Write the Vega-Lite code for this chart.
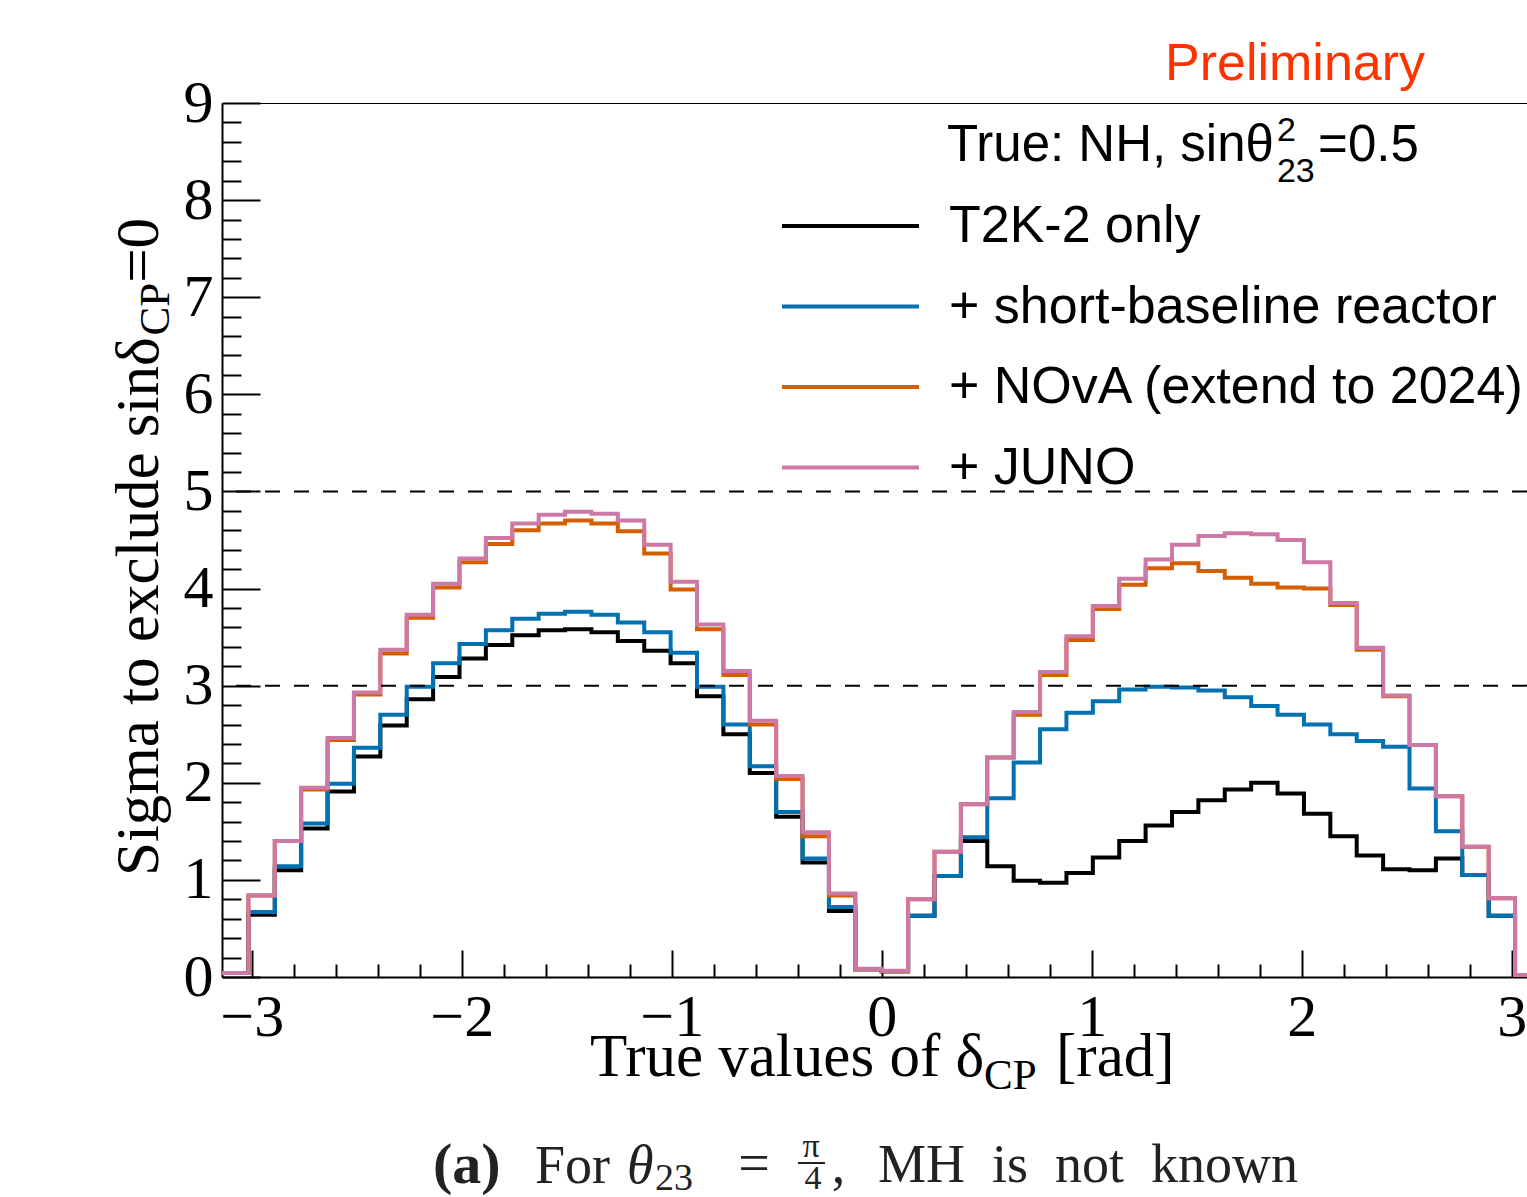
{
  "$schema": "https://vega.github.io/schema/vega-lite/v6.json",
  "width": 1305,
  "height": 874,
  "autosize": {"type": "none"},
  "padding": {"left": 222, "top": 103, "right": 0, "bottom": 220},
  "background": "white",
  "config": {
    "view": {"stroke": null},
    "axis": {
      "grid": false,
      "domainColor": "black",
      "domainWidth": 2,
      "tickColor": "black",
      "tickWidth": 2,
      "labelColor": "black",
      "labelFont": "Liberation Serif",
      "labelFontSize": 60,
      "labelOverlap": false,
      "labelFlush": false
    },
    "text": {"baseline": "alphabetic", "align": "left", "color": "black"}
  },
  "datasets": {
    "hist": [
      {"delta": -3.1416, "t2k": 0.04, "reactor": 0.04, "nova": 0.04, "juno": 0.04},
      {"delta": -3.0159, "t2k": 0.64, "reactor": 0.67, "nova": 0.84, "juno": 0.84},
      {"delta": -2.8903, "t2k": 1.10, "reactor": 1.14, "nova": 1.40, "juno": 1.40},
      {"delta": -2.7646, "t2k": 1.53, "reactor": 1.58, "nova": 1.93, "juno": 1.95},
      {"delta": -2.6389, "t2k": 1.91, "reactor": 1.99, "nova": 2.44, "juno": 2.46},
      {"delta": -2.5133, "t2k": 2.27, "reactor": 2.36, "nova": 2.91, "juno": 2.93},
      {"delta": -2.3876, "t2k": 2.59, "reactor": 2.70, "nova": 3.33, "juno": 3.37},
      {"delta": -2.2619, "t2k": 2.86, "reactor": 2.99, "nova": 3.70, "juno": 3.73},
      {"delta": -2.1363, "t2k": 3.09, "reactor": 3.23, "nova": 4.01, "juno": 4.05},
      {"delta": -2.0106, "t2k": 3.28, "reactor": 3.43, "nova": 4.27, "juno": 4.31},
      {"delta": -1.8850, "t2k": 3.42, "reactor": 3.57, "nova": 4.46, "juno": 4.52},
      {"delta": -1.7593, "t2k": 3.52, "reactor": 3.69, "nova": 4.60, "juno": 4.67},
      {"delta": -1.6336, "t2k": 3.57, "reactor": 3.74, "nova": 4.67, "juno": 4.76},
      {"delta": -1.5080, "t2k": 3.58, "reactor": 3.76, "nova": 4.70, "juno": 4.79},
      {"delta": -1.3823, "t2k": 3.55, "reactor": 3.73, "nova": 4.67, "juno": 4.77},
      {"delta": -1.2566, "t2k": 3.46, "reactor": 3.65, "nova": 4.59, "juno": 4.70},
      {"delta": -1.1310, "t2k": 3.36, "reactor": 3.55, "nova": 4.36, "juno": 4.45},
      {"delta": -1.0053, "t2k": 3.23, "reactor": 3.34, "nova": 3.99, "juno": 4.07},
      {"delta": -0.8796, "t2k": 2.89, "reactor": 2.99, "nova": 3.58, "juno": 3.63},
      {"delta": -0.7540, "t2k": 2.50, "reactor": 2.60, "nova": 3.11, "juno": 3.15},
      {"delta": -0.6283, "t2k": 2.10, "reactor": 2.17, "nova": 2.60, "juno": 2.64},
      {"delta": -0.5027, "t2k": 1.65, "reactor": 1.70, "nova": 2.04, "juno": 2.07},
      {"delta": -0.3770, "t2k": 1.18, "reactor": 1.22, "nova": 1.45, "juno": 1.49},
      {"delta": -0.2513, "t2k": 0.68, "reactor": 0.72, "nova": 0.84, "juno": 0.86},
      {"delta": -0.1257, "t2k": 0.08, "reactor": 0.08, "nova": 0.08, "juno": 0.085},
      {"delta": 0.0, "t2k": 0.06, "reactor": 0.06, "nova": 0.06, "juno": 0.065},
      {"delta": 0.1257, "t2k": 0.63, "reactor": 0.63, "nova": 0.80, "juno": 0.80},
      {"delta": 0.2513, "t2k": 1.04, "reactor": 1.04, "nova": 1.29, "juno": 1.29},
      {"delta": 0.3770, "t2k": 1.40, "reactor": 1.44, "nova": 1.78, "juno": 1.78},
      {"delta": 0.5027, "t2k": 1.14, "reactor": 1.84, "nova": 2.26, "juno": 2.26},
      {"delta": 0.6283, "t2k": 0.99, "reactor": 2.21, "nova": 2.70, "juno": 2.73},
      {"delta": 0.7540, "t2k": 0.97, "reactor": 2.55, "nova": 3.11, "juno": 3.14},
      {"delta": 0.8796, "t2k": 1.07, "reactor": 2.72, "nova": 3.47, "juno": 3.51},
      {"delta": 1.0053, "t2k": 1.23, "reactor": 2.84, "nova": 3.79, "juno": 3.82},
      {"delta": 1.1310, "t2k": 1.40, "reactor": 2.96, "nova": 4.04, "juno": 4.10},
      {"delta": 1.2566, "t2k": 1.56, "reactor": 2.99, "nova": 4.21, "juno": 4.30},
      {"delta": 1.3823, "t2k": 1.70, "reactor": 2.98, "nova": 4.26, "juno": 4.45},
      {"delta": 1.5080, "t2k": 1.82, "reactor": 2.95, "nova": 4.18, "juno": 4.54},
      {"delta": 1.6336, "t2k": 1.93, "reactor": 2.88, "nova": 4.11, "juno": 4.57},
      {"delta": 1.7593, "t2k": 2.00, "reactor": 2.79, "nova": 4.05, "juno": 4.56},
      {"delta": 1.8850, "t2k": 1.89, "reactor": 2.70, "nova": 4.01, "juno": 4.50},
      {"delta": 2.0106, "t2k": 1.68, "reactor": 2.60, "nova": 4.00, "juno": 4.27},
      {"delta": 2.1363, "t2k": 1.45, "reactor": 2.50, "nova": 3.83, "juno": 3.85},
      {"delta": 2.2619, "t2k": 1.25, "reactor": 2.43, "nova": 3.37, "juno": 3.39},
      {"delta": 2.3876, "t2k": 1.11, "reactor": 2.37, "nova": 2.89, "juno": 2.90},
      {"delta": 2.5133, "t2k": 1.10, "reactor": 1.94, "nova": 2.39, "juno": 2.39},
      {"delta": 2.6389, "t2k": 1.22, "reactor": 1.50, "nova": 1.86, "juno": 1.86},
      {"delta": 2.7646, "t2k": 1.05, "reactor": 1.05, "nova": 1.34, "juno": 1.34},
      {"delta": 2.8903, "t2k": 0.63, "reactor": 0.63, "nova": 0.81, "juno": 0.81},
      {"delta": 3.0159, "t2k": 0.02, "reactor": 0.02, "nova": 0.02, "juno": 0.02},
      {"delta": 3.1416, "t2k": 0.02, "reactor": 0.02, "nova": 0.02, "juno": 0.02}
    ],
    "thresholds": [{"sigma": 3}, {"sigma": 5}],
    "one": [{}]
  },
  "resolve": {"axis": {"x": "independent", "y": "independent"}},
  "layer": [
    {
      "data": {"name": "hist"},
      "transform": [{"fold": ["t2k", "reactor", "nova", "juno"], "as": ["series", "sigma"]}],
      "mark": {"type": "line", "interpolate": "step-after", "strokeWidth": 4, "clip": true},
      "encoding": {
        "x": {
          "field": "delta", "type": "quantitative",
          "scale": {"domain": [-3.1416, 3.0728], "nice": false, "zero": false},
          "axis": {"orient": "bottom", "values": [-3, -2, -1, 0, 1, 2, 3], "tickSize": -27, "labelPadding": 38, "title": null}
        },
        "y": {
          "field": "sigma", "type": "quantitative",
          "scale": {"domain": [0, 9], "nice": false},
          "axis": {"orient": "left", "values": [0, 1, 2, 3, 4, 5, 6, 7, 8, 9], "tickSize": -38, "labelPadding": 47, "title": null}
        },
        "color": {
          "field": "series", "type": "nominal",
          "scale": {"domain": ["t2k", "reactor", "nova", "juno"], "range": ["#000000", "#0072B2", "#D55E00", "#CC79A7"]},
          "legend": {
            "orient": "none", "legendX": 558, "legendY": 93, "title": null, "padding": 0,
            "symbolType": "stroke", "symbolSize": 18769, "symbolStrokeWidth": 4, "symbolOffset": 0,
            "labelFont": "Liberation Sans", "labelFontSize": 52, "labelColor": "black", "labelOffset": 28,
            "labelLimit": 2000, "clipHeight": 60, "rowPadding": 20.5,
            "labelExpr": "{'t2k': 'T2K-2 only', 'reactor': '+ short-baseline reactor', 'nova': '+ NOvA (extend to 2024)', 'juno': '+ JUNO'}[datum.label]"
          }
        }
      }
    },
    {
      "data": {"name": "thresholds"},
      "mark": {"type": "rule", "color": "black", "strokeWidth": 2, "strokeDash": [15, 14]},
      "encoding": {
        "y": {
          "field": "sigma", "type": "quantitative",
          "axis": {
            "orient": "left", "values": [0.2, 0.4, 0.6, 0.8, 1.2, 1.4, 1.6, 1.8, 2.2, 2.4, 2.6, 2.8, 3.2, 3.4, 3.6, 3.8, 4.2, 4.4, 4.6, 4.8, 5.2, 5.4, 5.6, 5.8, 6.2, 6.4, 6.6, 6.8, 7.2, 7.4, 7.6, 7.8, 8.2, 8.4, 8.6, 8.8],
            "tickSize": -19, "labels": false, "domain": false, "title": null
          }
        }
      }
    },
    {
      "data": {"name": "one"},
      "mark": {"type": "rule", "color": "black", "strokeWidth": 2, "clip": true},
      "encoding": {
        "x": {
          "datum": -3.1416, "type": "quantitative",
          "axis": {
            "orient": "bottom", "values": [-2.8, -2.6, -2.4, -2.2, -1.8, -1.6, -1.4, -1.2, -0.8, -0.6, -0.4, -0.2, 0.2, 0.4, 0.6, 0.8, 1.2, 1.4, 1.6, 1.8, 2.2, 2.4, 2.6, 2.8],
            "tickSize": -13, "labels": false, "domain": false, "title": null
          }
        },
        "x2": {"datum": 3.1416},
        "y": {"datum": 9, "type": "quantitative", "axis": null}
      }
    },
    {
      "data": {"name": "one"},
      "mark": {"type": "text", "text": "True values of δ", "font": "Liberation Serif", "fontSize": 61},
      "encoding": {"x": {"datum": -1.389, "type": "quantitative", "axis": null}, "y": {"datum": -1.0195, "type": "quantitative", "axis": null}}
    },
    {
      "data": {"name": "one"},
      "mark": {"type": "text", "text": "CP", "font": "Liberation Serif", "fontSize": 43},
      "encoding": {"x": {"datum": 0.4871, "type": "quantitative", "axis": null}, "y": {"datum": -1.1533, "type": "quantitative", "axis": null}}
    },
    {
      "data": {"name": "one"},
      "mark": {"type": "text", "text": "[rad]", "font": "Liberation Serif", "fontSize": 61},
      "encoding": {"x": {"datum": 0.83, "type": "quantitative", "axis": null}, "y": {"datum": -1.0195, "type": "quantitative", "axis": null}}
    },
    {
      "data": {"name": "one"},
      "mark": {"type": "text", "text": "Sigma to exclude sinδ", "font": "Liberation Serif", "fontSize": 61, "angle": 270},
      "encoding": {"x": {"datum": -3.4462, "type": "quantitative", "axis": null}, "y": {"datum": 1.04, "type": "quantitative", "axis": null}}
    },
    {
      "data": {"name": "one"},
      "mark": {"type": "text", "text": "CP", "font": "Liberation Serif", "fontSize": 43, "angle": 270},
      "encoding": {"x": {"datum": -3.3938, "type": "quantitative", "axis": null}, "y": {"datum": 6.606, "type": "quantitative", "axis": null}}
    },
    {
      "data": {"name": "one"},
      "mark": {"type": "text", "text": "=0", "font": "Liberation Serif", "fontSize": 61, "angle": 270},
      "encoding": {"x": {"datum": -3.4462, "type": "quantitative", "axis": null}, "y": {"datum": 7.148, "type": "quantitative", "axis": null}}
    },
    {
      "data": {"name": "one"},
      "mark": {"type": "text", "text": "True: NH, sinθ", "font": "Liberation Sans", "fontSize": 51},
      "encoding": {"x": {"datum": 0.311, "type": "quantitative", "axis": null}, "y": {"datum": 8.406, "type": "quantitative", "axis": null}}
    },
    {
      "data": {"name": "one"},
      "mark": {"type": "text", "text": "2", "font": "Liberation Sans", "fontSize": 34},
      "encoding": {"x": {"datum": 1.882, "type": "quantitative", "axis": null}, "y": {"datum": 8.609, "type": "quantitative", "axis": null}}
    },
    {
      "data": {"name": "one"},
      "mark": {"type": "text", "text": "23", "font": "Liberation Sans", "fontSize": 34},
      "encoding": {"x": {"datum": 1.882, "type": "quantitative", "axis": null}, "y": {"datum": 8.187, "type": "quantitative", "axis": null}}
    },
    {
      "data": {"name": "one"},
      "mark": {"type": "text", "text": "=0.5", "font": "Liberation Sans", "fontSize": 51},
      "encoding": {"x": {"datum": 2.078, "type": "quantitative", "axis": null}, "y": {"datum": 8.406, "type": "quantitative", "axis": null}}
    },
    {
      "data": {"name": "one"},
      "mark": {"type": "text", "text": "Preliminary", "font": "Liberation Sans", "fontSize": 52, "color": "#FF3300"},
      "encoding": {"x": {"datum": 1.349, "type": "quantitative", "axis": null}, "y": {"datum": 9.237, "type": "quantitative", "axis": null}}
    },
    {
      "data": {"name": "one"},
      "mark": {"type": "text", "text": "(a)", "font": "Liberation Serif", "fontSize": 58, "fontWeight": "bold", "color": "#222222"},
      "encoding": {"x": {"datum": -2.1367, "type": "quantitative", "axis": null}, "y": {"datum": -2.1213, "type": "quantitative", "axis": null}}
    },
    {
      "data": {"name": "one"},
      "mark": {"type": "text", "text": "For", "font": "Liberation Serif", "fontSize": 54, "color": "#222222"},
      "encoding": {"x": {"datum": -1.651, "type": "quantitative", "axis": null}, "y": {"datum": -2.1213, "type": "quantitative", "axis": null}}
    },
    {
      "data": {"name": "one"},
      "mark": {"type": "text", "text": "θ", "font": "Liberation Serif", "fontSize": 54, "fontStyle": "italic", "color": "#222222"},
      "encoding": {"x": {"datum": -1.2129, "type": "quantitative", "axis": null}, "y": {"datum": -2.1213, "type": "quantitative", "axis": null}}
    },
    {
      "data": {"name": "one"},
      "mark": {"type": "text", "text": "23", "font": "Liberation Serif", "fontSize": 38, "color": "#222222"},
      "encoding": {"x": {"datum": -1.0795, "type": "quantitative", "axis": null}, "y": {"datum": -2.1934, "type": "quantitative", "axis": null}}
    },
    {
      "data": {"name": "one"},
      "mark": {"type": "text", "text": "=", "align": "center", "font": "Liberation Serif", "fontSize": 56, "color": "#222222"},
      "encoding": {"x": {"datum": -0.6081, "type": "quantitative", "axis": null}, "y": {"datum": -2.111, "type": "quantitative", "axis": null}}
    },
    {
      "data": {"name": "one"},
      "mark": {"type": "text", "text": "π", "align": "center", "font": "Liberation Serif", "fontSize": 34, "color": "#222222"},
      "encoding": {"x": {"datum": -0.3367, "type": "quantitative", "axis": null}, "y": {"datum": -1.8536, "type": "quantitative", "axis": null}}
    },
    {
      "data": {"name": "one"},
      "mark": {"type": "rule", "color": "#222222", "strokeWidth": 2},
      "encoding": {"x": {"datum": -0.3986, "type": "quantitative", "axis": null}, "x2": {"datum": -0.27}, "y": {"datum": -1.9153, "type": "quantitative", "axis": null}}
    },
    {
      "data": {"name": "one"},
      "mark": {"type": "text", "text": "4", "align": "center", "font": "Liberation Serif", "fontSize": 34, "color": "#222222"},
      "encoding": {"x": {"datum": -0.3271, "type": "quantitative", "axis": null}, "y": {"datum": -2.1831, "type": "quantitative", "axis": null}}
    },
    {
      "data": {"name": "one"},
      "mark": {"type": "text", "text": ",", "font": "Liberation Serif", "fontSize": 54, "color": "#222222"},
      "encoding": {"x": {"datum": -0.2376, "type": "quantitative", "axis": null}, "y": {"datum": -2.1213, "type": "quantitative", "axis": null}}
    },
    {
      "data": {"name": "one"},
      "mark": {"type": "text", "text": "MH\u00a0 is\u00a0 not\u00a0 known", "font": "Liberation Serif", "fontSize": 54, "color": "#222222"},
      "encoding": {"x": {"datum": -0.0176, "type": "quantitative", "axis": null}, "y": {"datum": -2.111, "type": "quantitative", "axis": null}}
    }
  ]
}
